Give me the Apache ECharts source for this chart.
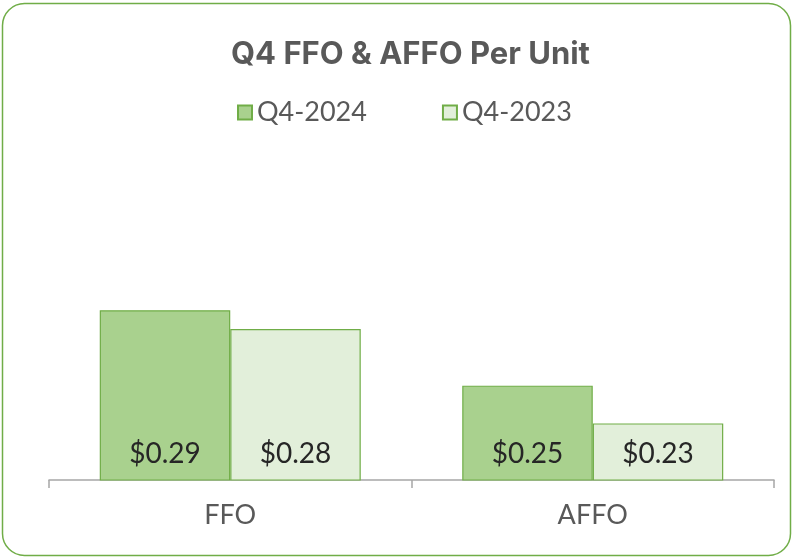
<!DOCTYPE html>
<html>
<head>
<meta charset="utf-8">
<script src="https://cdn.jsdelivr.net/npm/echarts@6/dist/echarts.min.js"></script>
<style>
  html, body { margin: 0; padding: 0; background: #fff; }
  #chart { width: 792px; height: 558px; }
</style>
</head>
<body>
<div id="chart"></div>
<script>
// data
const categories = ['FFO', 'AFFO'];
const seriesNames = ['Q4-2024', 'Q4-2023'];
const q4_2024 = [0.29, 0.25];
const q4_2023 = [0.28, 0.23];

const chart = echarts.init(document.getElementById('chart'));

const labelStyle = {
  show: true,
  position: 'insideBottom',
  distance: 13,
  fontFamily: 'Lato',
  fontSize: 28,
  color: '#262626',
  formatter: p => '$' + p.value.toFixed(2)
};

chart.setOption({
  backgroundColor: '#fff',
  animation: false,
  title: {
    text: 'Q4 FFO & AFFO Per Unit',
    left: 226,
    top: 34,
    textStyle: {
      fontFamily: 'Inter',
      fontWeight: 'bold',
      fontSize: 31,
      color: '#595959'
    }
  },
  legend: {
    top: 94,
    left: 232,
    itemWidth: 14,
    itemHeight: 14,
    itemGap: 75,
    icon: 'rect',
    textStyle: {
      fontFamily: 'Lato',
      fontSize: 27,
      color: '#595959'
    },
    data: seriesNames
  },
  grid: { left: 49, right: 18, top: 197, bottom: 78 },
  xAxis: {
    type: 'category',
    data: categories,
    axisLine: { lineStyle: { color: '#a6a6a6', width: 1.5 } },
    axisTick: { show: true, length: 8, lineStyle: { color: '#a6a6a6', width: 1.5 } },
    axisLabel: {
      fontFamily: 'Lato',
      fontSize: 27,
      color: '#595959',
      margin: 22
    }
  },
  yAxis: {
    type: 'value',
    min: 0.2,
    max: 0.35,
    show: false,
    splitLine: { show: false }
  },
  series: [
    {
      name: seriesNames[0],
      type: 'bar',
      data: q4_2024,
      barGap: '0%',
      barCategoryGap: '28%',
      itemStyle: { color: '#a9d18e', borderColor: '#70ad47', borderWidth: 1.2 },
      label: labelStyle
    },
    {
      name: seriesNames[1],
      type: 'bar',
      data: q4_2023,
      itemStyle: { color: '#e2efda', borderColor: '#70ad47', borderWidth: 1.2 },
      label: labelStyle
    }
  ],
  graphic: [{
    type: 'rect',
    shape: { x: 2.5, y: 3.5, width: 788, height: 552, r: 22 },
    style: { fill: 'none', stroke: '#70ad47', lineWidth: 1.5 },
    silent: true
  }]
});
</script>
</body>
</html>
